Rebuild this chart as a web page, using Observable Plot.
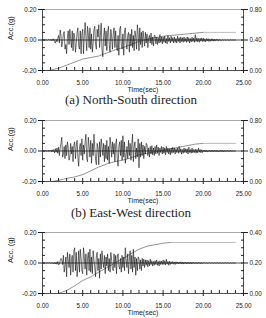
<!DOCTYPE html>
<html><head><meta charset="utf-8">
<script src="https://cdn.jsdelivr.net/npm/d3@7"></script>
<script src="https://cdn.jsdelivr.net/npm/@observablehq/plot@0.6"></script>
<style>
body{margin:0;background:#fff;width:266px;height:318px;overflow:hidden;position:relative}
.p{position:absolute;left:0}
.cap{position:absolute;left:0;width:262px;text-align:center;font-family:"Liberation Serif","Times New Roman",serif;font-size:13px;color:#222;line-height:16px}
</style></head><body>
<script>
// sampling step of the acceleration records (s)
const dt = 0.1;
const xTickLabels = [0, 5, 10, 15, 20, 25];
const yTickLabels = [-0.2, 0, 0.2];

// (a) North-South acceleration (g), one row per second
const accNS = [
0,0.002,-0.002,0.003,-0.001,0.002,-0.003,0.002,0.004,-0.002,
0.003,-0.004,0.006,-0.003,0.008,-0.01,-0.02,0.005,-0.012,0.01,
0.03,-0.02,0.065,0.03,-0.045,-0.01,0.04,0.055,-0.06,-0.03,
-0.09,0.02,0.06,-0.03,0.07,0.01,-0.05,0.06,-0.07,0.045,
0.02,-0.08,-0.02,0.05,0.08,-0.04,-0.06,0.06,-0.09,0.04,
0.07,-0.09,0.03,0.115,0.02,-0.07,0.09,0.04,-0.05,0.08,
-0.06,0.04,-0.08,-0.02,0.07,0.09,-0.03,-0.06,0.07,0.02,
0.1,-0.05,0.03,0.11,-0.06,-0.11,0.02,0.08,-0.04,0.06,
-0.07,0.05,0.09,-0.03,-0.08,0.07,0.02,-0.06,0.04,0.08,
-0.05,0.06,-0.04,-0.07,0.03,-0.1,0.07,0.09,-0.03,-0.06,
0.04,-0.1,0.06,0.08,-0.02,-0.06,0.03,0.05,-0.08,0.04,
-0.04,0.07,-0.05,0.03,-0.07,0.06,0.02,-0.06,0.1,0.04,
-0.07,0.08,-0.03,0.05,-0.05,0.06,0.01,-0.04,0.05,-0.02,
0.04,-0.05,0.01,0.03,-0.02,0.045,-0.03,0.02,-0.04,0.03,
0.03,-0.025,0.02,-0.03,0.015,-0.02,0.035,-0.015,0.02,-0.025,
0.02,-0.015,0.025,-0.02,0.01,-0.025,0.03,-0.01,0.015,-0.02,
0.025,-0.01,0.015,-0.02,0.02,-0.015,0.01,-0.02,0.025,-0.01,
0.015,-0.02,0.02,-0.01,0.015,-0.015,0.02,-0.01,0.01,-0.015,
0.02,-0.01,0.015,-0.02,0.01,-0.012,0.018,-0.01,0.012,-0.015,
0.035,-0.01,0.015,-0.012,0.01,-0.015,0.012,-0.008,0.014,-0.01,
0.012,-0.01,0.008,-0.012,0.01,-0.006,0.009,-0.01,0.006,-0.008,
0.008,-0.006,0.007,-0.008,0.005,-0.006,0.006,-0.004,0.005,-0.006,
0.004,-0.003,0.002,-0.004,0.003,-0.002,0.003,-0.003,0.002,-0.002,
0.002,-0.002,0.001,-0.002,0.002,-0.001,0.001,-0.002,0.001,-0.001,
0];

// (b) East-West acceleration (g)
const accEW = [
0.002,-0.003,0.004,-0.002,0.005,-0.003,0.003,-0.004,0.006,-0.002,
0.004,-0.006,0.008,-0.005,0.01,-0.012,0.015,-0.008,0.02,-0.015,
0.025,-0.03,0.02,0.05,0.09,-0.04,-0.02,0.03,-0.05,0.04,
-0.03,0.06,0.02,-0.06,-0.04,0.05,-0.02,0.03,-0.07,0.04,
0.06,-0.05,0.03,0.07,-0.04,-0.1,0.02,0.05,-0.03,0.08,
-0.06,0.04,-0.02,0.06,0.11,-0.05,-0.07,0.09,0.03,-0.04,
0.07,-0.08,0.05,-0.03,0.11,0.02,-0.06,-0.09,0.05,0.02,
-0.09,0.06,-0.04,0.08,0.03,-0.03,0.05,-0.07,0.04,-0.05,
0.07,-0.06,0.03,-0.08,0.09,0.04,-0.04,0.06,-0.02,0.05,
-0.07,0.04,0.08,-0.05,-0.1,0.03,0.06,-0.03,0.07,-0.06,
0.1,-0.04,0.06,-0.08,-0.03,0.03,-0.05,0.07,-0.03,0.05,
-0.06,0.04,0.11,-0.07,0.03,0.06,-0.05,0.02,-0.04,0.08,
-0.11,0.05,-0.04,0.06,-0.03,0.04,-0.05,0.03,-0.02,0.05,
0.04,-0.03,0.02,-0.04,0.03,-0.02,0.035,-0.025,0.02,-0.03,
0.03,-0.02,0.04,-0.015,0.025,-0.03,0.02,-0.01,0.03,-0.02,
0.025,-0.015,0.02,-0.025,0.03,-0.01,0.02,-0.02,0.015,-0.025,
0.02,-0.015,0.025,-0.01,0.02,-0.02,0.015,-0.01,0.02,-0.015,
0.03,-0.01,0.015,-0.02,0.01,-0.015,0.02,-0.01,0.015,-0.012,
0.015,-0.02,0.025,-0.01,0.01,-0.015,0.02,-0.012,0.01,-0.01,
0.012,-0.015,0.01,-0.012,0.02,-0.008,0.01,-0.012,0.008,-0.01,
0.006,-0.005,0.007,-0.006,0.005,-0.007,0.004,-0.005,0.006,-0.004,
0.005,-0.006,0.004,-0.005,0.006,-0.004,0.005,-0.006,0.004,-0.005,
0.004,-0.005,0.006,-0.004,0.005,-0.006,0.004,-0.005,0.004,-0.003,
0.004,-0.005,0.003,-0.004,0.005,-0.003,0.004,-0.004,0.003,-0.002,
0];

// third record acceleration (g)
const accV = [
0.001,-0.001,0.002,-0.001,0.001,-0.002,0.001,0.002,-0.001,0.001,
-0.002,0.003,-0.004,0.002,-0.005,0.004,-0.006,0.005,-0.008,0.01,
-0.012,-0.008,0.015,0.03,0.02,-0.01,0.05,-0.06,-0.02,0.04,
-0.09,0.07,0.02,-0.03,0.06,-0.08,0.02,0.05,-0.06,0.08,
0.1,-0.05,0.07,-0.09,-0.02,0.08,-0.06,0.09,0.03,-0.05,
-0.07,0.1,0.04,-0.04,0.06,-0.08,0.03,0.07,-0.05,0.09,
-0.06,0.04,-0.07,0.08,0.02,-0.03,-0.09,0.05,0.07,-0.05,
0.03,-0.1,0.06,-0.04,0.08,0.01,-0.03,0.05,-0.07,0.04,
-0.02,0.06,-0.05,0.03,-0.06,0.07,0.02,-0.04,-0.05,0.06,
-0.03,0.05,-0.07,0.04,0.06,-0.02,-0.04,0.03,-0.06,0.05,
-0.03,0.04,-0.05,0.1,0.02,-0.03,0.06,-0.07,0.02,0.08,
-0.04,0.05,-0.06,0.09,-0.03,0.04,-0.08,0.03,-0.05,0.04,
0.03,-0.04,0.02,-0.05,0.03,-0.02,0.025,-0.03,0.02,-0.015,
0.02,-0.025,0.015,-0.02,0.025,-0.01,0.015,-0.02,0.01,-0.015,
0.015,-0.01,0.02,-0.015,0.01,-0.02,0.015,-0.01,0.012,-0.01,
0.02,-0.01,0.015,-0.012,0.025,-0.008,0.01,-0.015,0.012,-0.01,
0.008,-0.006,0.01,-0.008,0.006,-0.01,0.008,-0.005,0.007,-0.006,
0.006,-0.005,0.008,-0.006,0.005,-0.007,0.006,-0.004,0.005,-0.006,
0.005,-0.004,0.006,-0.005,0.004,-0.006,0.005,-0.004,0.005,-0.003,
0.004,-0.005,0.003,-0.004,0.005,-0.003,0.004,-0.005,0.003,-0.004,
0.003,-0.002,0.003,-0.003,0.002,-0.003,0.002,-0.002,0.003,-0.002,
0.002,-0.003,0.002,-0.002,0.003,-0.002,0.002,-0.003,0.002,-0.002,
0.002,-0.002,0.003,-0.002,0.002,-0.003,0.002,-0.002,0.002,-0.002,
0.002,-0.002,0.002,-0.003,0.002,-0.002,0.002,-0.002,0.001,-0.001,
0];

// cumulative (Arias-type) curves, right-axis units
const ariasNS_t = [0.6,1,2,3,4,5,6,7,8,9,10,11,12,13,14,15,16,17,18,19,20,24];
const ariasNS_v = [0,0.005,0.03,0.07,0.11,0.15,0.17,0.19,0.23,0.27,0.3,0.34,0.38,0.41,0.43,0.45,0.46,0.47,0.48,0.49,0.5,0.5];
const ariasEW_t = [1.2,2,3,4,5,6,7,8,9,10,11,12,13,14,15,16,17,18,19,20,24];
const ariasEW_v = [0,0.015,0.04,0.06,0.09,0.14,0.19,0.23,0.26,0.28,0.31,0.35,0.37,0.39,0.41,0.43,0.45,0.47,0.49,0.5,0.5];
const ariasV_t = [2,3,4,5,6,7,8,9,10,11,12,13,14,15,16,24];
const ariasV_v = [0,0.02,0.05,0.085,0.11,0.14,0.17,0.2,0.23,0.26,0.29,0.31,0.32,0.33,0.335,0.335];

const rightMaxes = [0.8, 0.8, 0.4];
const plateauStarts = [20, 20, 16];
const yLabels = ["Acc.(g)", "Acc.(g)", "Acc. (g)"];
const captions = ["(a) North-South direction", "(b) East-West direction"];
const panelTops = [0, 111, 223];
const captionTops = [92, 205];

const font = "'Liberation Sans', Arial, sans-serif";

function panel(acc, aT, aV, rightMax, plateauFrom, yLabel) {
  const accData = acc.map((v, i) => ({t: i * dt, a: v}));
  const toLeft = v => -0.2 + v / rightMax * 0.4;
  const arias = aT.map((t, i) => ({t, y: toLeft(aV[i])}));
  const rise = arias.filter(d => d.t <= plateauFrom);
  const flat = arias.filter(d => d.t >= plateauFrom);
  const minorY = d3.range(-0.2, 0.2001, 0.05);
  const minorX = d3.range(0, 25.001, 1);
  const rightFmt = d => ((d + 0.2) / 0.4 * rightMax).toFixed(2);
  return Plot.plot({
    width: 266, height: 100,
    marginLeft: 42, marginRight: 23, marginTop: 9, marginBottom: 30,
    x: {domain: [0, 25]},
    y: {domain: [-0.2, 0.2]},
    style: {fontFamily: font, fontSize: "6.3px", color: "#222", background: "transparent", overflow: "visible"},
    marks: [
      Plot.ruleY([0.2], {stroke: "#aaa", strokeWidth: 1}),
      Plot.ruleY([0], {stroke: "#222", strokeWidth: 0.8}),
      Plot.line(rise, {x: "t", y: "y", stroke: "#777", strokeWidth: 0.8}),
      Plot.line(flat, {x: "t", y: "y", stroke: "#bbb", strokeWidth: 1}),
      Plot.line(accData, {x: "t", y: "a", stroke: "#111", strokeWidth: 0.6}),
      Plot.ruleX([0, 25], {stroke: "#222", strokeWidth: 0.8}),
      Plot.ruleY([-0.2], {stroke: "#222", strokeWidth: 0.8}),
      Plot.axisY(yTickLabels, {anchor: "left", tickSize: 4, tickPadding: 2, tickFormat: d => d.toFixed(2), label: null, stroke: "#222"}),
      Plot.axisY(minorY, {anchor: "left", tickSize: -3, tickFormat: () => "", label: null, stroke: "#222"}),
      Plot.axisY(yTickLabels, {anchor: "right", tickSize: 4, tickPadding: 2, tickFormat: rightFmt, label: null, stroke: "#222"}),
      Plot.axisY(minorY, {anchor: "right", tickSize: -3, tickFormat: () => "", label: null, stroke: "#222"}),
      Plot.axisX(xTickLabels, {anchor: "bottom", tickSize: 3, tickPadding: 7, tickFormat: d => d.toFixed(2), label: null, stroke: "#222"}),
      Plot.axisX(minorX, {anchor: "bottom", tickSize: -3, tickFormat: () => "", label: null, stroke: "#222"}),
      Plot.text(["Time(sec)"], {frameAnchor: "bottom", dy: 21, fontSize: 7, fill: "#222"}),
      Plot.text([yLabel], {frameAnchor: "left", dx: -32, rotate: -90, fontSize: 7.5, fill: "#222"})
    ]
  });
}

const accs = [accNS, accEW, accV];
const aTs = [ariasNS_t, ariasEW_t, ariasV_t];
const aVs = [ariasNS_v, ariasEW_v, ariasV_v];
for (let k = 0; k < 3; k++) {
  const div = document.createElement("div");
  div.className = "p";
  div.style.top = panelTops[k] + "px";
  div.appendChild(panel(accs[k], aTs[k], aVs[k], rightMaxes[k], plateauStarts[k], yLabels[k]));
  document.body.appendChild(div);
}
captions.forEach((c, i) => {
  const d = document.createElement("div");
  d.className = "cap";
  d.style.top = captionTops[i] + "px";
  d.textContent = c;
  document.body.appendChild(d);
});
</script>
</body></html>
